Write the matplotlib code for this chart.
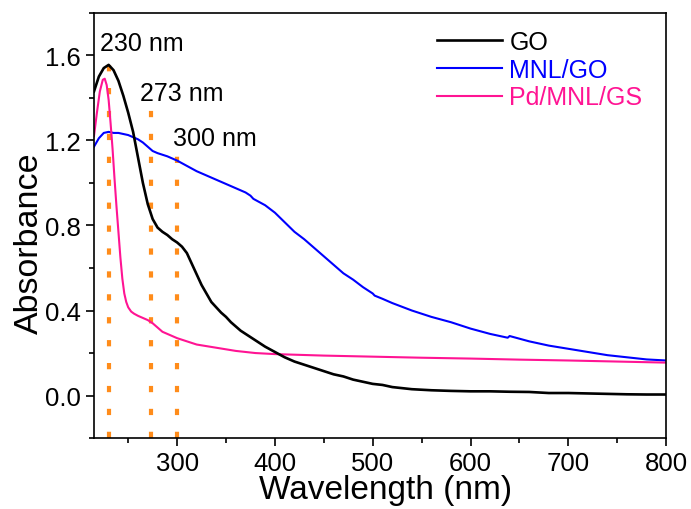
"""UV-vis absorbance: GO, MNL/GO, Pd/MNL/GS."""
import matplotlib
matplotlib.use('Agg')
import matplotlib.pyplot as plt
from matplotlib.ticker import MultipleLocator

plt.rcParams.update({
    'font.family': ['Liberation Sans', 'DejaVu Sans'],
    'font.size': 18,
    'axes.linewidth': 1.2,
})

# GO
go_wl = [215, 220, 225, 230, 235, 240, 245, 250, 255, 260, 265, 270, 275, 280, 285,
         290, 295, 300, 305, 310, 315, 320, 325, 330, 335, 340, 345, 350, 355, 360,
         365, 370, 375, 380, 390, 400, 410, 420, 430, 440, 450, 460, 470, 480, 490,
         500, 510, 520, 530, 540, 560, 580, 600, 620, 640, 660, 680, 700, 720, 740,
         760, 780, 800]
go_abs = [1.43, 1.50, 1.54, 1.555, 1.53, 1.48, 1.41, 1.33, 1.24, 1.12, 1.00, 0.90, 0.83,
          0.79, 0.77, 0.755, 0.735, 0.72, 0.70, 0.67, 0.62, 0.57, 0.52, 0.48, 0.44, 0.415,
          0.39, 0.37, 0.345, 0.325, 0.305, 0.29, 0.275, 0.26, 0.23, 0.205, 0.18, 0.16,
          0.145, 0.13, 0.115, 0.10, 0.09, 0.075, 0.065, 0.055, 0.05, 0.04, 0.035, 0.03,
          0.025, 0.022, 0.02, 0.02, 0.018, 0.017, 0.012, 0.012, 0.01, 0.008, 0.006,
          0.005, 0.005]

# MNL/GO
mnl_wl = [215, 220, 225, 230, 235, 240, 245, 250, 255, 260, 265, 270, 275, 280, 290,
          300, 310, 320, 330, 340, 350, 360, 370, 375, 378, 380, 390, 400, 410, 420,
          430, 440, 450, 460, 470, 480, 490, 500, 502, 510, 520, 540, 560, 580, 600,
          620, 638, 640, 660, 680, 700, 720, 740, 760, 780, 800]
mnl_abs = [1.17, 1.21, 1.235, 1.24, 1.235, 1.235, 1.23, 1.225, 1.215, 1.205, 1.19, 1.17,
           1.15, 1.14, 1.125, 1.105, 1.08, 1.055, 1.035, 1.015, 0.995, 0.975, 0.955,
           0.94, 0.925, 0.92, 0.895, 0.86, 0.815, 0.77, 0.735, 0.695, 0.655, 0.615,
           0.575, 0.545, 0.51, 0.48, 0.47, 0.455, 0.435, 0.40, 0.37, 0.345, 0.315,
           0.29, 0.272, 0.28, 0.255, 0.235, 0.22, 0.205, 0.19, 0.18, 0.17, 0.165]

# Pd/MNL/GS
pd_wl = [215, 218, 221, 224, 226, 228, 230, 232, 234, 236, 238, 240, 242, 244, 246,
         248, 250, 253, 256, 260, 265, 270, 275, 280, 285, 290, 300, 310, 320, 340,
         360, 380, 400, 450, 500, 550, 600, 650, 700, 750, 800]
pd_abs = [1.22, 1.33, 1.43, 1.485, 1.49, 1.46, 1.39, 1.28, 1.16, 1.02, 0.89, 0.77, 0.65,
          0.55, 0.48, 0.44, 0.415, 0.395, 0.385, 0.375, 0.365, 0.355, 0.34, 0.32, 0.30,
          0.29, 0.27, 0.255, 0.24, 0.225, 0.21, 0.20, 0.195, 0.188, 0.183, 0.178, 0.174,
          0.169, 0.165, 0.16, 0.155]

# peak markers: wavelength, top of dotted line, label position
peak_wl = [230, 273, 300]
peak_top = [1.6, 1.38, 1.15]
peak_labels = ['230 nm', '273 nm', '300 nm']
label_x = [221, 262, 295.5]
label_y = [1.66, 1.425, 1.21]

fig = plt.figure(figsize=(6.91, 5.10), dpi=100)
ax = fig.add_axes([0.136, 0.139, 0.828, 0.834])

for w, top in zip(peak_wl, peak_top):
    ax.plot([w, w], [-0.2, top], color='#FF8C1A', lw=3,
            linestyle=(0, (1.5, 4.0)), zorder=1)

ax.plot(go_wl, go_abs, color='black', lw=1.9, label='GO', zorder=3)
ax.plot(mnl_wl, mnl_abs, color='#0000FF', lw=1.5, label='MNL/GO', zorder=2)
ax.plot(pd_wl, pd_abs, color='#FF1493', lw=1.5, label='Pd/MNL/GS', zorder=2)

for t, x, y in zip(peak_labels, label_x, label_y):
    ax.text(x, y, t, fontsize=18, ha='left', va='center')

ax.set_xlim(215, 800)
ax.set_ylim(-0.2, 1.8)
ax.xaxis.set_major_locator(MultipleLocator(100))
ax.xaxis.set_minor_locator(MultipleLocator(50))
ax.yaxis.set_minor_locator(MultipleLocator(0.2))
ax.set_yticks([0.0, 0.4, 0.8, 1.2, 1.6])
ax.set_yticklabels(['0.0', '0.4', '0.8', '1.2', '1.6'])
ax.tick_params(which='major', direction='out', length=6, width=1.2, labelsize=18.5)
ax.tick_params(which='minor', direction='out', length=3.5, width=1.2)

ax.set_xlabel('Wavelength (nm)', fontsize=24)
ax.set_ylabel('Absorbance', fontsize=24.5)
ax.xaxis.set_label_coords(0.51, -0.084, transform=ax.transAxes)
ax.yaxis.set_label_coords(-0.086, 0.46, transform=ax.transAxes)

leg = ax.legend(loc='upper right', frameon=False, fontsize=18, handlelength=2.6,
                handletextpad=0.3, labelspacing=0.15, borderaxespad=0.2,
                bbox_to_anchor=(0.985, 0.995))
for txt, ln in zip(leg.get_texts(), leg.get_lines()):
    txt.set_color(ln.get_color())

fig.savefig('out.png', dpi=100)
